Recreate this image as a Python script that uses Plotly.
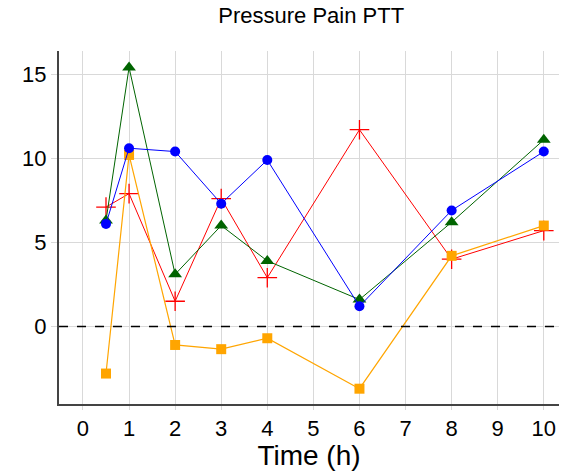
import plotly.graph_objects as go

time_h = [0.5, 1, 2, 3, 4, 6, 8, 10]
series_red = [7.1, 7.9, 1.5, 7.6, 2.9, 11.7, 4.0, 5.7]
series_orange = [-2.8, 10.2, -1.1, -1.35, -0.7, -3.7, 4.2, 6.0]
series_green = [6.3, 15.4, 3.1, 6.0, 3.9, 1.6, 6.2, 11.1]
series_blue = [6.1, 10.6, 10.4, 7.3, 9.9, 1.2, 6.9, 10.4]
x_ticks = list(range(0, 11))
y_ticks = [0, 5, 10, 15]
baseline = 0

FONT = "Liberation Sans, Arial, sans-serif"

fig = go.Figure()
fig.add_trace(go.Scatter(x=time_h, y=series_red, mode="lines+markers",
                         line=dict(color="#ff0000", width=1),
                         marker=dict(symbol="cross-thin-open", size=14,
                                     line=dict(color="#ff0000", width=1.3)),
                         showlegend=False))
fig.add_trace(go.Scatter(x=time_h, y=series_orange, mode="lines+markers",
                         line=dict(color="#ffa500", width=1.2),
                         marker=dict(symbol="square", size=10, color="#ffa500"),
                         showlegend=False))
fig.add_trace(go.Scatter(x=time_h, y=series_green, mode="lines+markers",
                         line=dict(color="#006400", width=1),
                         marker=dict(symbol="triangle-up", size=12, color="#006400"),
                         showlegend=False))
fig.add_trace(go.Scatter(x=time_h, y=series_blue, mode="lines+markers",
                         line=dict(color="#0000ff", width=1),
                         marker=dict(symbol="circle", size=10, color="#0000ff"),
                         showlegend=False))

fig.add_shape(type="line", xref="paper", x0=0, x1=1, yref="y", y0=baseline, y1=baseline,
              line=dict(color="black", width=1.5, dash="dash"))

fig.update_layout(
    width=571, height=471,
    margin=dict(l=59, r=12, t=51, b=67, autoexpand=False),
    paper_bgcolor="white", plot_bgcolor="white",
    font=dict(family=FONT, color="black"),
    title=dict(text="Pressure Pain PTT", x=0.545, xanchor="center", y=0.968, yanchor="middle",
               font=dict(size=22, family=FONT, color="black")),
)
fig.update_xaxes(range=[-0.52, 10.33], tickvals=x_ticks, ticktext=[str(v) for v in x_ticks],
                 automargin=False,
                 showgrid=True, gridcolor="#d9d9d9", gridwidth=1,
                 showline=True, linecolor="#444444", linewidth=2,
                 ticks="outside", ticklen=4, tickcolor="#d9d9d9", tickwidth=1,
                 tickfont=dict(size=22, family=FONT, color="black"),
                 title=dict(text="Time (h)", font=dict(size=28, family=FONT, color="black"), standoff=2),
                 zeroline=False)
fig.update_yaxes(range=[-4.61, 16.38], tickvals=y_ticks, ticktext=[str(v) for v in y_ticks],
                 automargin=False,
                 showgrid=True, gridcolor="#d9d9d9", gridwidth=1,
                 showline=True, linecolor="#444444", linewidth=2,
                 ticks="outside", ticklen=6, tickcolor="#d9d9d9", tickwidth=1,
                 tickfont=dict(size=22, family=FONT, color="black"),
                 zeroline=False)

fig.write_html("out.html", config={"displayModeBar": False},
               post_script="document.body.style.margin='0';document.body.style.overflow='hidden';")
